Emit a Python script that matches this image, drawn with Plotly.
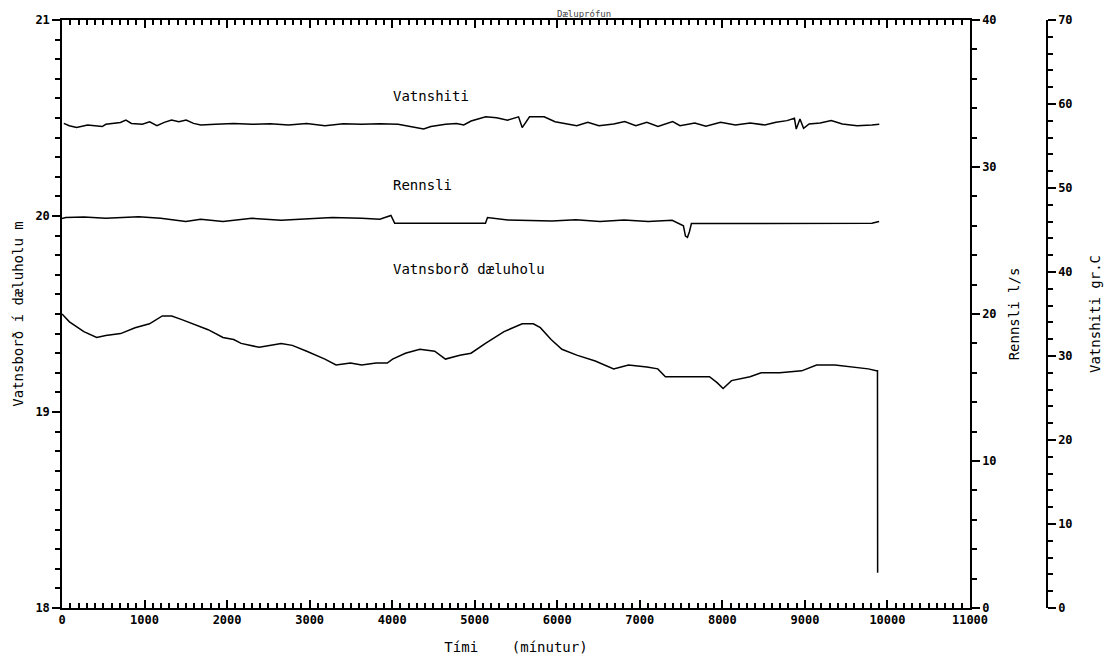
import plotly.graph_objects as go

# ---- data ----
t_level = [0, 90, 265, 420, 530, 710, 885, 1060, 1215, 1330, 1460, 1590, 1770, 1950, 2080, 2170,
           2390, 2655, 2790, 2965, 3185, 3320, 3495, 3630, 3805, 3940, 4005, 4160, 4335, 4515, 4645,
           4820, 4955, 5130, 5355, 5575, 5710, 5795, 5925, 6056, 6236, 6460, 6683, 6863, 7086, 7218,
           7310, 7577, 7844, 7936, 8009, 8111, 8335, 8470, 8694, 8961, 9141, 9364, 9588, 9768, 9865,
           9879, 9881]
level = [19.50, 19.46, 19.41, 19.38, 19.39, 19.40, 19.43, 19.45, 19.49, 19.49, 19.47, 19.45, 19.42,
         19.38, 19.37, 19.35, 19.33, 19.35, 19.34, 19.31, 19.27, 19.24, 19.25, 19.24, 19.25, 19.25,
         19.27, 19.30, 19.32, 19.31, 19.27, 19.29, 19.30, 19.35, 19.41, 19.45, 19.45, 19.43, 19.37,
         19.32, 19.29, 19.26, 19.22, 19.24, 19.23, 19.22, 19.18, 19.18, 19.18, 19.15, 19.12, 19.16,
         19.18, 19.20, 19.20, 19.21, 19.24, 19.24, 19.23, 19.22, 19.21, 19.21, 18.18]

t_flow = [0, 45, 265, 530, 930, 1195, 1500, 1680, 1950, 2300, 2655, 2965, 3275, 3630, 3850, 3985,
          4030, 5130, 5155, 5400, 5700, 5935, 6226, 6518, 6809, 7101, 7392, 7528, 7553, 7577, 7601,
          7625, 8364, 9335, 9811, 9899]
flow = [26.50, 26.56, 26.60, 26.51, 26.62, 26.51, 26.29, 26.45, 26.29, 26.51, 26.38, 26.45, 26.56,
        26.51, 26.45, 26.70, 26.18, 26.18, 26.56, 26.40, 26.38, 26.33, 26.42, 26.30, 26.40, 26.30,
        26.38, 26.00, 25.30, 25.22, 25.60, 26.16, 26.16, 26.16, 26.18, 26.29]

t_temp = [22, 88, 177, 310, 487, 531, 708, 774, 841, 973, 1062, 1150, 1239, 1327, 1416, 1504, 1593,
          1681, 1858, 2080, 2301, 2522, 2743, 2965, 3186, 3407, 3628, 3850, 4071, 4248, 4381, 4469,
          4646, 4779, 4867, 4956, 5133, 5265, 5398, 5531, 5575, 5664, 5841, 5973, 6057, 6236, 6370,
          6504, 6683, 6817, 6951, 7085, 7220, 7398, 7487, 7666, 7800, 7979, 8158, 8337, 8515, 8649,
          8783, 8873, 8895, 8940, 8984, 9051, 9185, 9319, 9453, 9632, 9811, 9901]
temp = [57.69, 57.42, 57.19, 57.50, 57.31, 57.58, 57.81, 58.08, 57.69, 57.58, 57.89, 57.42, 57.81,
        58.08, 57.89, 58.08, 57.69, 57.50, 57.58, 57.69, 57.58, 57.66, 57.50, 57.69, 57.42, 57.66,
        57.58, 57.66, 57.58, 57.31, 57.03, 57.31, 57.58, 57.69, 57.50, 57.97, 58.47, 58.36, 58.08,
        58.47, 57.19, 58.47, 58.47, 57.89, 57.74, 57.42, 57.82, 57.42, 57.62, 57.90, 57.42, 57.82,
        57.34, 57.90, 57.42, 57.74, 57.34, 57.82, 57.50, 57.74, 57.50, 57.82, 58.02, 58.30, 57.02,
        58.22, 57.10, 57.62, 57.74, 58.02, 57.62, 57.42, 57.50, 57.58]

labels = ["Vatnshiti", "Rennsli", "Vatnsborð dæluholu"]
label_pos_x = [3985, 3985, 3985]
label_pos_y = [20.61, 20.16, 19.73]

FONT = "DejaVu Sans Mono"
LINE = dict(color="black", width=1.5)

fig = go.Figure()
fig.add_trace(go.Scatter(x=t_level, y=level, mode="lines", line=LINE, yaxis="y", showlegend=False))
fig.add_trace(go.Scatter(x=t_flow, y=flow, mode="lines", line=LINE, yaxis="y2", showlegend=False))
fig.add_trace(go.Scatter(x=t_temp, y=temp, mode="lines", line=LINE, yaxis="y3", showlegend=False))

for txt, xx, yy in zip(labels, label_pos_x, label_pos_y):
    fig.add_annotation(x=xx, y=yy, xref="x", yref="y", text=txt, showarrow=False,
                       xanchor="left", yanchor="middle", font=dict(family=FONT, size=14, color="black"))

# title at the very top (mostly cut off in the reference)
fig.add_annotation(x=0.5, y=1.0, xref="paper", yref="paper", yshift=6, text="Dæluprófun",
                   showarrow=False, xanchor="center", yanchor="middle",
                   font=dict(family=FONT, size=9, color="#444"))

TICKFONT = dict(family=FONT, size=12, color="black", weight="bold")
axis_common = dict(showgrid=False, zeroline=False, showline=True, linecolor="black", linewidth=1.5,
                   tickcolor="black", tickwidth=1.5, tickfont=TICKFONT, automargin=False)

# the page body adds an 8 px offset, margins compensate for it
PAPER_W = 1118 - 54 - 20

fig.update_layout(
    width=1118, height=666,
    paper_bgcolor="white", plot_bgcolor="white",
    margin=dict(l=54, r=20, t=12, b=66),
    font=dict(family=FONT, color="black"),
    xaxis=dict(**axis_common, domain=[0, 908 / PAPER_W], range=[0, 11000], dtick=1000, tick0=0,
               tickformat="d", ticks="inside", ticklen=8, mirror="ticks",
               minor=dict(dtick=100, ticks="inside", ticklen=5, tickcolor="black", showgrid=False),
               title=dict(text="Tími    (mínutur)", font=dict(family=FONT, size=14), standoff=16)),
    yaxis=dict(**axis_common, range=[18, 21], dtick=1, ticks="outside", ticklen=8,
               minor=dict(dtick=0.1, ticks="outside", ticklen=5, tickcolor="black", showgrid=False),
               title=dict(text="Vatnsborð í dæluholu m", font=dict(family=FONT, size=14), standoff=8)),
    yaxis2=dict(**axis_common, overlaying="y", side="right", anchor="x", range=[0, 40], dtick=10,
                ticks="outside", ticklen=8,
                minor=dict(dtick=2, ticks="outside", ticklen=5, tickcolor="black", showgrid=False),
                title=dict(text="Rennsli l/s", font=dict(family=FONT, size=14), standoff=14)),
    yaxis3=dict(**axis_common, overlaying="y", side="right", anchor="free",
                position=(1047 - 62) / PAPER_W, range=[0, 70], dtick=10,
                ticks="outside", ticklen=8,
                minor=dict(dtick=2, ticks="outside", ticklen=5, tickcolor="black", showgrid=False),
                title=dict(text="Vatnshiti gr.C", font=dict(family=FONT, size=14), standoff=18)),
)

fig.write_html("out.html")
